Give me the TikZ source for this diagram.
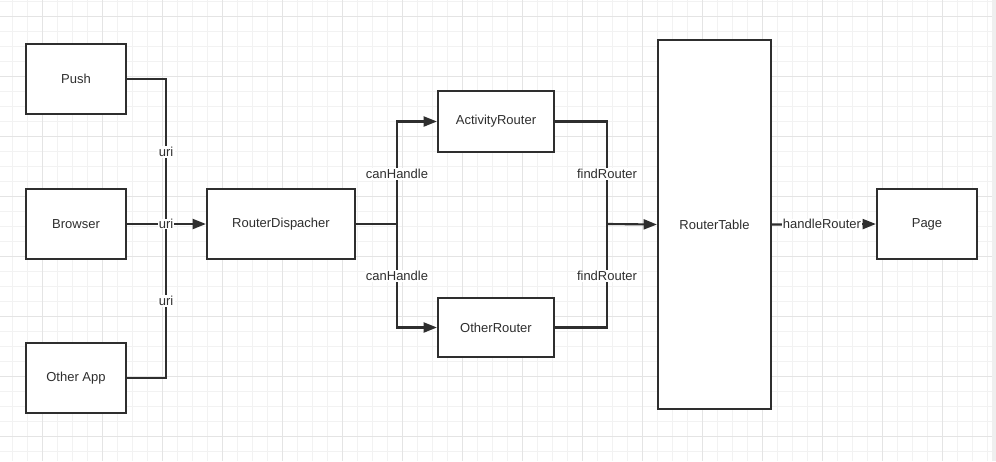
\documentclass[tikz,border=0pt]{standalone}
\usepackage{fontspec}
\setmainfont{Liberation Sans}
\usetikzlibrary{arrows.meta}
\definecolor{ink}{HTML}{2E2E2E}
\definecolor{gridminor}{HTML}{F2F2F2}
\definecolor{gridmajor}{HTML}{E4E4E4}
\definecolor{strip}{HTML}{EFEFEF}
\begin{document}
\begin{tikzpicture}[x=0.75pt,y=-0.75pt,
  txt/.style={font=\fontsize{9.75}{12}\selectfont, text=ink},
  box/.style={draw=ink, line width=1.6pt, fill=white, inner sep=0pt, txt},
  conn/.style={draw=ink, line width=1.6pt},
  arr/.style={conn, -{Triangle[length=10pt,width=7.5pt]}},
  lbl/.style={fill=white, inner sep=1pt, txt}]
\useasboundingbox (0,0) rectangle (996,461);
\fill[white] (0,0) rectangle (996,461);
% grid
\foreach \i in {0,...,66} {\draw[gridminor, line width=0.75pt] ({12.3+15*\i},0) -- ({12.3+15*\i},461);}
\foreach \i in {0,...,30} {\draw[gridminor, line width=0.75pt] (0,{1+15*\i}) -- (996,{1+15*\i});}
\foreach \i in {0,...,16} {\draw[gridmajor, line width=0.75pt] ({42.3+60*\i},0) -- ({42.3+60*\i},461);}
\foreach \i in {0,...,7} {\draw[gridmajor, line width=0.75pt] (0,{16+60*\i}) -- (996,{16+60*\i});}
\fill[strip] (992,0) rectangle (996,461);
% nodes
\node[box, minimum width=75pt, minimum height=52.5pt] (push) at (76,79) {Push};
\node[box, minimum width=75pt, minimum height=52.5pt] (browser) at (76,224) {Browser};
\node[box, minimum width=75pt, minimum height=52.5pt] (otherapp) at (76,378) {Other App};
\node[box, minimum width=111pt, minimum height=52.5pt] (disp) at (281,224) {RouterDispacher};
\node[box, minimum width=87pt, minimum height=45.75pt] (act) at (496,121.5) {ActivityRouter};
\node[box, minimum width=87pt, minimum height=44.5pt] (oth) at (496,327.5) {OtherRouter};
\node[box, minimum width=84.75pt, minimum height=276.75pt] (table) at (714.5,224.5) {RouterTable};
\node[box, minimum width=75pt, minimum height=52.5pt] (page) at (927,224) {Page};
\coordinate (j1) at (166,224);
\coordinate (f) at (397,224);
\coordinate (g) at (607,224);
% connectors
\draw[conn] (push.east) -| (j1);
\draw[conn] (otherapp.east) -| (j1);
\draw[arr] (browser.east) -- (disp.west);
\draw[conn] (disp.east) -- (f);
\draw[arr] (f) |- (act.west);
\draw[arr] (f) |- (oth.west);
\draw[conn] (act.east) -| (g);
\draw[conn] (oth.east) -| (g);
\draw[arr] (g) -- (table.west);
\draw[arr] (table.east) -- node[lbl, inner sep=0.5pt, xshift=-1.5pt] (lh) {handleRouter} (page.west);
% labels
\node[lbl] (u1) at (166,152) {uri};
\node[lbl, inner sep=0.5pt] (u2) at (166,224) {uri};
\node[lbl] (u3) at (166,301) {uri};
\node[lbl] (c1) at (397,174) {canHandle};
\node[lbl] (c2) at (397,276) {canHandle};
\node[lbl] (r1) at (607,174) {findRouter};
\node[lbl] (r2) at (607,276) {findRouter};
\end{tikzpicture}
\end{document}
